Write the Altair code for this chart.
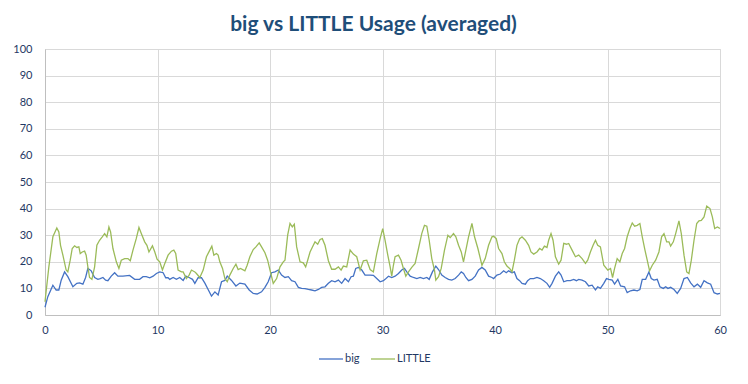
import altair as alt
import pandas as pd

big_x = [0.0, 0.25, 0.7, 0.99, 1.23, 1.44, 1.74, 2.03, 2.48, 2.83, 3.07, 3.37, 3.61, 3.81, 4.11, 4.41, 4.7, 4.91,
         5.15, 5.39, 5.59, 5.89, 6.19, 6.48, 6.93, 7.52, 7.97, 8.41, 8.71, 9.0, 9.31, 9.61, 9.9, 10.2, 10.5, 10.73,
         10.94, 11.09, 11.39, 11.68, 11.98, 12.28, 12.51, 12.81, 13.11, 13.32, 13.61, 13.91, 14.21, 14.5, 14.8, 15.1,
         15.39, 15.69, 15.99, 16.2, 16.58, 16.97, 17.32, 17.77, 18.15, 18.51, 18.86, 19.25, 19.55, 19.84, 20.14, 20.44,
         20.74, 21.03, 21.33, 21.63, 21.92, 22.22, 22.52, 22.81, 23.11, 23.41, 23.7, 24.0, 24.3, 24.59, 24.89, 25.19,
         25.48, 25.78, 26.08, 26.37, 26.67, 26.97, 27.21, 27.41, 27.62, 27.86, 28.16, 28.45, 28.9, 29.19, 29.49, 29.79,
         30.08, 30.23, 30.53, 30.82, 31.12, 31.42, 31.71, 31.95, 32.16, 32.46, 32.75, 33.05, 33.35, 33.64, 33.94, 34.15,
         34.44, 34.74, 34.98, 35.27, 35.57, 35.87, 36.16, 36.46, 36.76, 37.0, 37.2, 37.41, 37.65, 37.95, 38.24, 38.54,
         38.84, 39.13, 39.43, 39.73, 39.88, 40.17, 40.47, 40.77, 41.0, 41.21, 41.51, 41.72, 41.95, 42.19, 42.4, 42.7,
         42.9, 43.14, 43.44, 43.73, 44.03, 44.33, 44.62, 44.86, 45.07, 45.37, 45.66, 45.87, 46.11, 46.4, 46.7, 47.0,
         47.24, 47.44, 47.74, 48.04, 48.33, 48.63, 48.93, 49.13, 49.37, 49.67, 49.91, 50.12, 50.42, 50.63, 50.92, 51.16,
         51.52, 51.75, 52.05, 52.35, 52.64, 52.88, 53.09, 53.39, 53.68, 53.89, 54.13, 54.42, 54.66, 54.96, 55.17, 55.37,
         55.61, 55.91, 56.2, 56.5, 56.8, 57.1, 57.39, 57.69, 57.99, 58.28, 58.58, 58.88, 59.17, 59.47, 59.77, 60.0]
big_y = [2.9, 6.9, 11.2, 9.4, 9.4, 13.1, 16.2, 14.4, 10.6, 11.9, 12.1, 11.6, 14.1, 17.5, 16.6, 14.1, 13.4, 13.7,
         14.1, 13.1, 12.9, 14.6, 15.9, 14.6, 14.6, 14.9, 13.4, 13.4, 14.4, 14.4, 14.0, 14.6, 15.6, 16.2, 15.9, 14.0,
         14.0, 13.4, 14.1, 13.4, 14.1, 13.0, 14.6, 14.1, 13.4, 11.9, 14.0, 14.0, 12.0, 9.6, 7.1, 8.7, 7.5, 12.5, 13.0,
         14.6, 13.0, 10.9, 12.0, 11.6, 9.4, 8.1, 7.9, 8.7, 10.4, 12.5, 15.9, 16.2, 16.9, 15.0, 14.1, 14.4, 12.9, 12.5,
         10.4, 10.0, 9.9, 9.6, 9.4, 9.1, 9.6, 10.4, 10.6, 11.9, 12.9, 12.5, 13.1, 11.9, 13.7, 12.5, 14.4, 14.6, 17.5,
         17.9, 16.9, 15.0, 15.0, 14.9, 13.7, 12.5, 12.9, 13.4, 14.6, 14.1, 14.6, 15.6, 16.9, 17.5, 16.2, 14.6, 14.1,
         13.7, 14.1, 13.7, 14.1, 13.4, 16.2, 18.4, 17.1, 15.0, 14.1, 13.4, 13.1, 13.7, 15.0, 16.2, 15.6, 14.1, 12.9,
         13.4, 14.6, 16.9, 17.9, 16.9, 14.6, 14.1, 13.7, 15.0, 15.4, 16.6, 15.9, 16.6, 15.9, 16.2, 13.7, 12.9, 11.9,
         11.6, 12.9, 13.7, 13.7, 14.1, 13.7, 12.9, 11.9, 10.4, 11.9, 14.6, 16.2, 15.0, 12.5, 12.9, 12.9, 13.4, 12.9,
         13.4, 13.1, 12.5, 10.9, 11.2, 9.4, 10.6, 10.0, 11.9, 13.7, 13.4, 13.1, 11.6, 13.4, 10.9, 10.6, 8.4, 9.1, 9.4,
         9.1, 9.6, 13.4, 13.4, 16.2, 13.7, 13.1, 13.4, 10.6, 10.0, 10.6, 10.0, 10.4, 9.6, 8.1, 10.0, 13.7, 14.1, 12.1,
         10.6, 11.6, 10.4, 12.9, 12.1, 11.6, 8.4, 7.9, 8.1]

little_x = [0.0, 0.34, 0.7, 1.05, 1.23, 1.38, 1.59, 1.88, 2.03, 2.24, 2.42, 2.63, 2.83, 3.01, 3.13, 3.31, 3.52, 3.66,
            3.81, 3.96, 4.17, 4.41, 4.61, 4.85, 5.09, 5.3, 5.5, 5.68, 5.83, 6.04, 6.34, 6.57, 6.78, 7.08, 7.37, 7.58,
            7.82, 8.11, 8.35, 8.56, 8.86, 9.06, 9.24, 9.55, 9.76, 9.96, 10.2, 10.44, 10.65, 10.94, 11.24, 11.45, 11.62,
            11.83, 12.13, 12.28, 12.57, 12.81, 13.02, 13.32, 13.46, 13.76, 14.06, 14.35, 14.65, 14.83, 15.01, 15.24,
            15.39, 15.54, 15.78, 15.99, 16.2, 16.43, 16.73, 16.97, 17.17, 17.38, 17.77, 17.97, 18.21, 18.51, 18.75,
            19.04, 19.25, 19.55, 19.79, 20.0, 20.29, 20.59, 20.89, 21.18, 21.33, 21.57, 21.78, 21.98, 22.16, 22.37,
            22.67, 22.96, 23.17, 23.35, 23.56, 23.85, 24.0, 24.24, 24.45, 24.65, 24.89, 25.19, 25.48, 25.78, 26.08,
            26.32, 26.52, 26.82, 27.12, 27.41, 27.71, 28.01, 28.3, 28.6, 28.9, 29.19, 29.49, 29.79, 30.02, 30.23, 30.47,
            30.68, 30.82, 30.97, 31.12, 31.42, 31.65, 31.86, 32.07, 32.31, 32.6, 32.9, 33.2, 33.49, 33.73, 33.94, 34.15,
            34.38, 34.62, 34.74, 34.98, 35.22, 35.51, 35.81, 36.02, 36.31, 36.52, 36.76, 37.0, 37.2, 37.41, 37.65, 37.95,
            38.18, 38.48, 38.84, 39.13, 39.43, 39.73, 39.88, 40.11, 40.32, 40.62, 40.83, 41.06, 41.3, 41.51, 41.72,
            41.95, 42.19, 42.4, 42.7, 42.99, 43.2, 43.44, 43.73, 43.97, 44.18, 44.39, 44.62, 44.77, 44.98, 45.16, 45.37,
            45.66, 45.87, 46.11, 46.35, 46.55, 46.85, 47.15, 47.44, 47.74, 48.04, 48.24, 48.48, 48.72, 48.93, 49.13,
            49.37, 49.67, 50.03, 50.27, 50.45, 50.63, 50.86, 51.1, 51.31, 51.52, 51.75, 51.99, 52.2, 52.41, 52.64,
            52.88, 53.09, 53.33, 53.53, 53.74, 53.98, 54.28, 54.57, 54.81, 55.02, 55.26, 55.46, 55.61, 55.85, 56.06,
            56.35, 56.56, 56.8, 57.04, 57.24, 57.45, 57.69, 57.93, 58.13, 58.34, 58.58, 58.82, 59.11, 59.32, 59.53,
            59.77, 60.0]
little_y = [5.0, 18.0, 29.4, 32.7, 31.2, 26.2, 22.5, 16.9, 16.2, 20.6, 25.0, 26.0, 25.4, 25.6, 23.1, 23.7, 24.0, 22.5,
            18.1, 14.1, 13.4, 18.1, 26.2, 28.1, 29.4, 30.6, 29.4, 33.1, 31.2, 25.0, 20.0, 17.5, 20.6, 21.2, 21.2, 20.4,
            24.4, 28.7, 32.9, 30.6, 27.5, 26.2, 23.7, 26.0, 23.7, 21.0, 20.0, 16.9, 19.4, 22.5, 24.0, 24.4, 23.1, 16.9,
            16.2, 16.2, 13.7, 15.0, 16.9, 16.2, 15.6, 14.1, 16.9, 21.9, 24.4, 25.9, 22.5, 23.1, 22.5, 20.0, 17.5, 13.7,
            12.5, 15.0, 17.5, 19.1, 17.1, 17.5, 16.6, 18.7, 21.9, 24.6, 25.6, 27.1, 25.6, 23.4, 20.6, 16.9, 11.9, 13.7,
            18.1, 20.0, 20.6, 30.0, 34.4, 33.1, 34.1, 25.6, 20.0, 19.6, 18.1, 20.6, 23.7, 26.2, 27.5, 26.6, 28.4, 28.7,
            26.2, 20.4, 17.2, 17.2, 18.1, 16.9, 18.4, 18.1, 24.4, 22.9, 21.9, 16.9, 20.4, 20.6, 17.1, 16.2, 23.1, 28.7,
            32.5, 28.1, 22.5, 18.1, 14.6, 18.7, 21.9, 22.5, 20.6, 17.5, 14.6, 16.2, 17.9, 19.4, 25.0, 30.6, 33.7, 33.4,
            28.1, 21.2, 16.9, 13.1, 14.4, 17.5, 24.4, 30.0, 29.1, 30.6, 29.4, 26.2, 23.7, 20.0, 24.4, 29.4, 34.4, 29.4,
            25.0, 18.7, 21.2, 26.2, 29.4, 29.6, 28.7, 25.0, 23.1, 20.0, 18.4, 17.5, 16.2, 20.6, 26.2, 28.7, 29.4, 28.1,
            26.2, 23.7, 22.9, 23.7, 25.0, 24.4, 25.9, 25.4, 28.1, 30.6, 28.1, 21.9, 19.1, 20.6, 26.9, 26.6, 26.9, 24.4,
            21.9, 22.5, 21.2, 19.4, 20.6, 23.7, 26.2, 28.1, 26.2, 25.6, 18.7, 16.9, 17.5, 14.1, 17.5, 21.2, 20.0, 23.1,
            25.0, 29.4, 32.5, 34.6, 33.4, 33.7, 34.4, 29.4, 24.4, 20.6, 16.6, 18.7, 20.6, 23.7, 29.4, 30.6, 27.5, 27.5,
            25.9, 27.5, 30.6, 35.4, 30.6, 22.5, 16.2, 15.6, 20.6, 28.1, 34.4, 35.4, 35.6, 36.9, 40.9, 40.0, 36.9, 32.5,
            33.1, 32.5]

series_names = ["big", "LITTLE"]
series_colors = ["#4472C4", "#9BBB59"]
title_text = "big vs LITTLE Usage (averaged)"

df = pd.concat([
    pd.DataFrame({"t": big_x, "v": big_y, "series": "big", "order": range(len(big_x))}),
    pd.DataFrame({"t": little_x, "v": little_y, "series": "LITTLE", "order": range(len(little_x))}),
])

label_color = "#1F3864"
font = "Lato"

chart = alt.Chart(df).mark_line(strokeWidth=1.3, interpolate="linear").encode(
    x=alt.X("t:Q", scale=alt.Scale(domain=[0, 60], nice=False, zero=False),
            axis=alt.Axis(title=None, values=[0, 10, 20, 30, 40, 50, 60], grid=True, gridColor="#D9D9D9",
                          domainColor="#BFBFBF", ticks=False, labelPadding=9, labelFontSize=11,
                          labelColor=label_color, labelFont=font, labelFlush=False)),
    y=alt.Y("v:Q", scale=alt.Scale(domain=[0, 100], nice=False),
            axis=alt.Axis(title=None, values=list(range(0, 101, 10)), grid=True, gridColor="#D9D9D9",
                          domainColor="#BFBFBF", ticks=False, labelPadding=13, labelFontSize=11,
                          labelColor=label_color, labelFont=font)),
    color=alt.Color("series:N", scale=alt.Scale(domain=series_names, range=series_colors),
                    legend=alt.Legend(title=None, orient="none", legendX=273, legendY=297, direction="horizontal",
                                      symbolType="stroke", symbolSize=576, symbolStrokeWidth=1.3,
                                      labelFontSize=11, labelColor=label_color, labelFont=font,
                                      labelOffset=1, columnPadding=8)),
    order="order:Q",
).properties(
    width=675,
    height=266,
    title=alt.TitleParams(title_text, fontSize=21, font=font, fontWeight="bold", color="#1F4E79",
                          anchor="middle", offset=8, dx=-9),
    autosize=alt.AutoSizeParams(type="none"),
    padding={"left": 37, "top": 41, "right": 12, "bottom": 60},
).configure_view(stroke="#D9D9D9", strokeWidth=1)

chart.save("out.html", embed_options={"renderer": "svg", "actions": False})
